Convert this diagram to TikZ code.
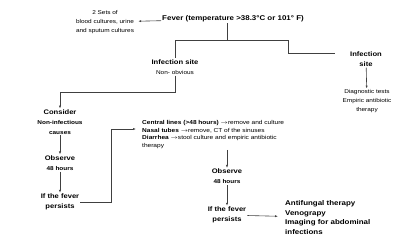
\documentclass[tikz,border=0pt]{standalone}
\usepackage{fontspec}
\setmainfont{Liberation Sans}[FakeStretch=1.15]
\usetikzlibrary{arrows.meta,positioning}

\newcommand{\subtxt}[1]{{\fontsize{5.6}{8}\selectfont #1}}

\begin{document}
\begin{tikzpicture}[
    x=1pt, y=-1pt,
    lbl/.style={align=center, inner sep=1pt, font=\fontsize{6.6}{9.8}\selectfont\bfseries},
    note/.style={align=center, inner sep=1pt, font=\fontsize{5.6}{8.6}\selectfont},
    list/.style={align=left, inner sep=1pt, font=\fontsize{5.7}{7.7}\selectfont},
    big/.style={align=left, inner sep=1pt, font=\fontsize{6.9}{9.7}\selectfont\bfseries},
    link/.style={draw=black!75, line width=0.6pt},
    arrow/.style={link, -{Latex[length=3pt,width=2.2pt]}}
]
\useasboundingbox (0,0) rectangle (400,250);
\node[note] (sets) at (105,22) {2 Sets of\\blood cultures, urine\\and sputum cultures};
\node[lbl, font=\fontsize{6.9}{9.8}\selectfont\bfseries] (fever) at (233,19) {Fever (temperature >38.3°C or 101° F)};
\node[lbl] (site1) at (175,67) {Infection site\\\subtxt{\mdseries Non- obvious}};
\node[lbl] (site2) at (366,59) {Infection\\site};
\node[note] (diag) at (367,101) {Diagnostic tests\\Empiric antibiotic\\therapy};
\node[lbl] (consider) at (60,122) {Consider\\\subtxt{Non-infectious}\\\subtxt{causes}};
\node[lbl] (obs1) at (60,163) {Observe\\\subtxt{48 hours}};
\node[lbl] (fever1) at (60,202) {If the fever\\persists};
\node[list, anchor=west] (actions) at (141,134.5) {\textbf{Central lines (>48 hours)} $\rightarrow$remove and culture\\
    \textbf{Nasal tubes} $\rightarrow$remove, CT of the sinuses\\
    \textbf{Diarrhea} $\rightarrow$stool culture and empiric antibiotic\\
    therapy};
\node[lbl] (obs2) at (227,176.5) {Observe\\\subtxt{48 hours}};
\node[lbl] (fever2) at (227,215) {If the fever\\persists};
\node[big, anchor=west] (final) at (284,217.5) {Antifungal therapy\\Venograpy\\Imaging for abdominal\\infections};

\coordinate (split) at (227,40);
\coordinate (splitL) at (175,40);
\coordinate (splitR) at (288,40);
\coordinate (bendR) at (335,53);
\coordinate (joinL) at (60,92);
\coordinate (loop) at (111,129);

\draw[arrow, shorten >=3pt] (fever) -- (sets);
\draw[link] (fever.south -| split) -- (split);
\draw[link] (splitL) -- (splitR);
\draw[link] (splitL) -- (site1.north);
\draw[link] (splitR) |- (bendR);
\draw[arrow] (site2) -- (diag);
\draw[link] (site1.south) |- (joinL);
\draw[arrow] (joinL) -- (consider.north);
\draw[arrow] (consider) -- (obs1);
\draw[arrow] (obs1) -- (fever1);
\draw[arrow, shorten >=5pt] (fever1.east) -| (loop) -- (actions.west |- loop);
\draw[arrow] (obs2 |- actions.south) -- (obs2);
\draw[arrow] (obs2) -- (fever2);
\draw[arrow, shorten >=6pt] (fever2) -- (final);
\end{tikzpicture}
\end{document}
